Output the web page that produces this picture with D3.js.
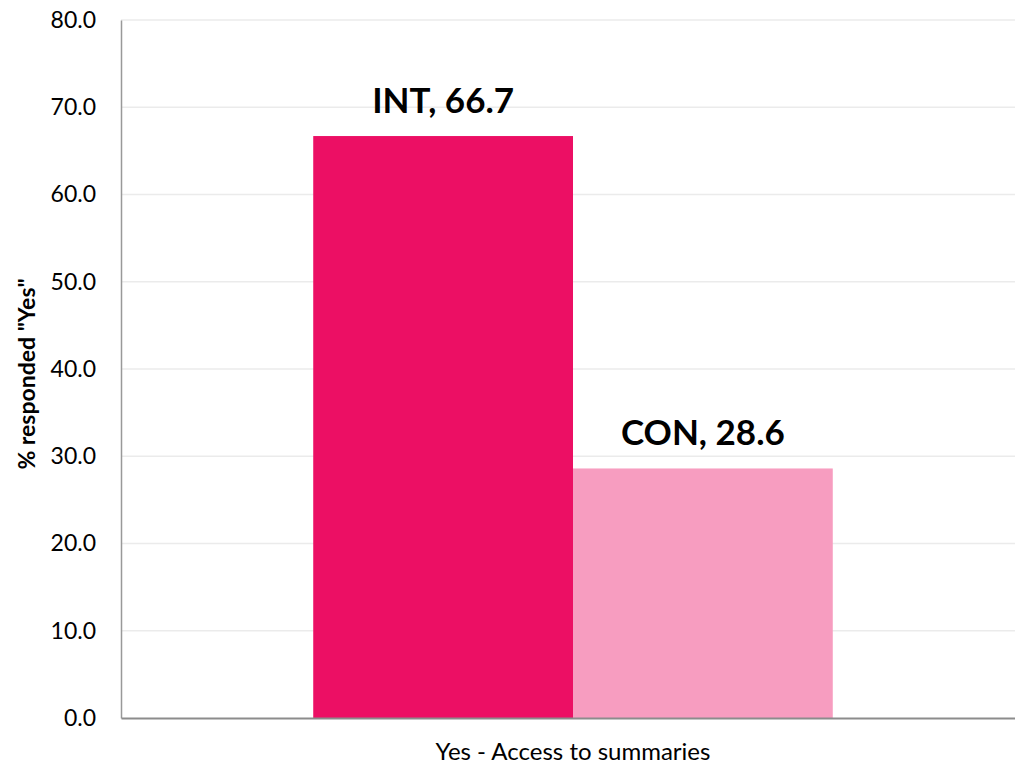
<!DOCTYPE html>
<html><head><meta charset="utf-8">
<script src="https://cdn.jsdelivr.net/npm/d3@7"></script>
<style>body{margin:0;background:#fff}svg{display:block}</style>
</head><body>
<script>
const categories = ["Yes - Access to summaries"];
const seriesNames = ["INT", "CON"];
const seriesValues = [66.7, 28.6];
const seriesColors = ["#EC0F64", "#F79DC0"];
const yTicks = [0, 10, 20, 30, 40, 50, 60, 70, 80];
const yTitle = '% responded "Yes"';

const W = 1015, H = 765;
const m = {left: 121, right: -10, top: 20, bottom: 47};
const svg = d3.select("body").append("svg").attr("width", W).attr("height", H);
const font = "Lato, 'Open Sans', sans-serif";

const x0 = d3.scaleBand().domain(categories).range([m.left, W - m.right]).paddingInner(0).paddingOuter(0);
const x1 = d3.scaleBand().domain(seriesNames).range([0, x0.bandwidth()]).paddingInner(0).paddingOuter(0.74);
const y = d3.scaleLinear().domain([0, 80]).range([H - m.bottom, m.top]);

// gridlines
svg.append("g").selectAll("line").data(yTicks.filter(d => d > 0)).join("line")
  .attr("x1", m.left).attr("x2", W).attr("y1", d => y(d)).attr("y2", d => y(d))
  .attr("stroke", "#EBEBEB").attr("stroke-width", 1.5);

// bars
const g = svg.append("g");
categories.forEach(c => {
  seriesNames.forEach((s, i) => {
    g.append("rect")
      .attr("x", x0(c) + x1(s)).attr("width", x1.bandwidth())
      .attr("y", y(seriesValues[i])).attr("height", y(0) - y(seriesValues[i]))
      .attr("fill", seriesColors[i]);
    g.append("text")
      .attr("x", x0(c) + x1(s) + x1.bandwidth() / 2).attr("y", y(seriesValues[i]) - 23)
      .attr("text-anchor", "middle").attr("font-family", font).attr("font-weight", "bold")
      .attr("font-size", 35).attr("fill", "#000")
      .text(`${s}, ${seriesValues[i].toFixed(1)}`);
  });
});

// y axis
const yAxis = d3.axisLeft(y).tickValues(yTicks).tickFormat(d3.format(".1f")).tickSize(0).tickPadding(25);
const ya = svg.append("g").attr("transform", `translate(${m.left},0)`).call(yAxis);
ya.select(".domain").attr("stroke", "#999").attr("stroke-width", 1.5);
ya.selectAll("text").attr("font-family", font).attr("font-size", 23).attr("fill", "#000");

// x axis
const xAxis = d3.axisBottom(x0).tickSize(0).tickPadding(25);
const xa = svg.append("g").attr("transform", `translate(0,${y(0)})`).call(xAxis);
xa.select(".domain").attr("stroke", "#8C8C8C").attr("stroke-width", 2);
xa.selectAll("text").attr("font-family", font).attr("font-size", 24).attr("fill", "#000");

// y title
svg.append("text").attr("transform", `translate(35,374) rotate(-90)`)
  .attr("text-anchor", "middle").attr("font-family", font).attr("font-weight", "bold")
  .attr("font-size", 23).attr("fill", "#000").text(yTitle);
</script>
</body></html>
